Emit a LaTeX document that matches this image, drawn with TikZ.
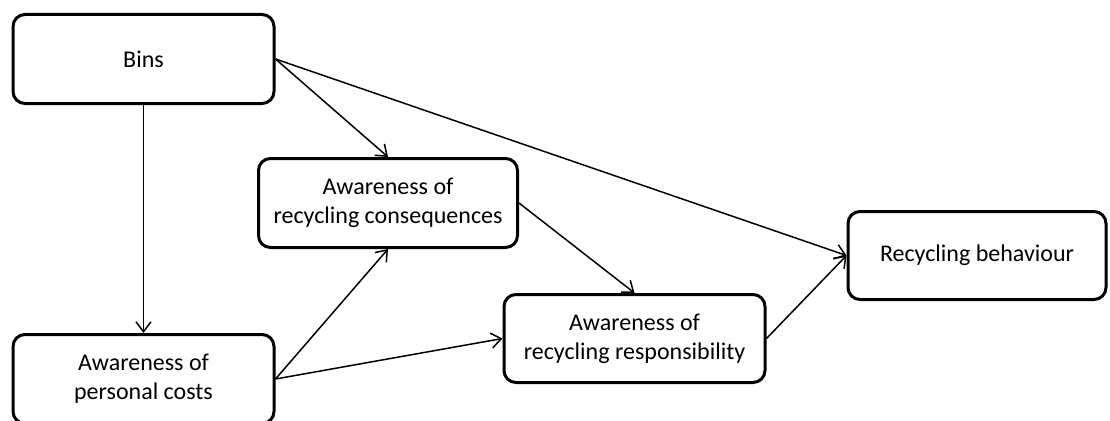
\documentclass[tikz,border=0pt]{standalone}
\usepackage{fontspec}
\setmainfont{Carlito}
\usetikzlibrary{arrows.meta}
\begin{document}
\begin{tikzpicture}[x=1pt,y=-1pt,
  box/.style={draw=black, line width=3pt, rounded corners=12pt, fill=white,
    rectangle, align=center, inner sep=0pt, minimum width=261pt, minimum height=89pt,
    font=\fontsize{24}{29}\selectfont},
  link/.style={line width=1.5pt, -{Straight Barb[length=10pt,width=15pt,line width=1.5pt]}}]
  % page frame
  \fill[white] (0,0) rectangle (1110,420);
  \useasboundingbox (0,0) rectangle (1110,420);

  % factors
  \node[box] (bins) at (143.5,59) {Bins};
  \node[box] (costs) at (143.5,379) {Awareness of\\personal costs};
  \node[box, minimum width=259pt] (cons) at (388,203) {Awareness of\\recycling consequences};
  \node[box, minimum height=88pt] (resp) at (634.5,338.5) {Awareness of\\recycling responsibility};
  \node[box, minimum width=258pt, minimum height=88pt] (behav) at (977,255.5) {Recycling behaviour};

  % paths
  \draw[link] (bins.south) -- (costs.north);
  \draw[link] (bins.east) -- (cons.north);
  \draw[link] (bins.east) -- (behav.west);
  \draw[link] (cons.east) -- (resp.north);
  \draw[link] (costs.east) -- (cons.south);
  \draw[link] (costs.east) -- (resp.west);
  \draw[link] (resp.east) -- (behav.west);
\end{tikzpicture}
\end{document}
